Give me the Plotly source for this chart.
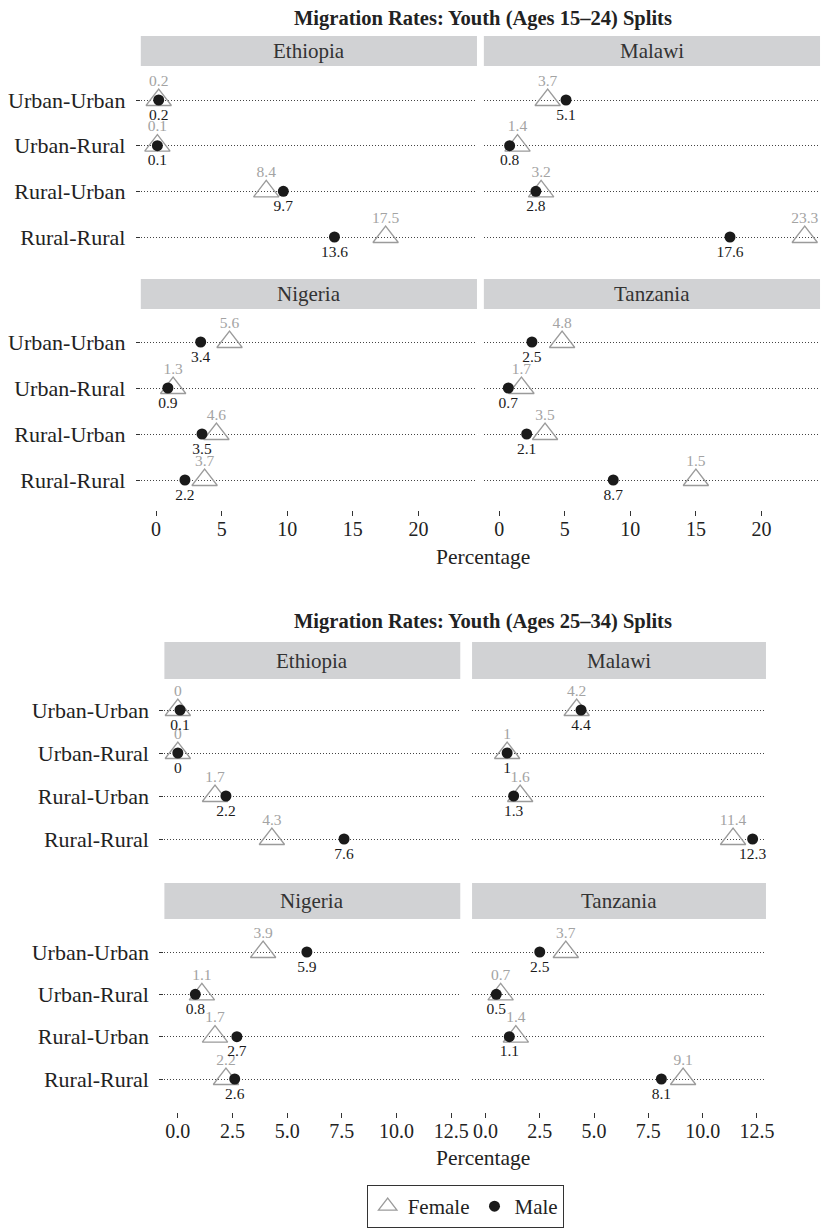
"""Migration rates by route, sex and country: two faceted dot plots."""

import plotly.graph_objects as go

W, H = 830, 1228
PAD = 8                      # default body margin of the written page
FW, FH = W - PAD, H - PAD    # figure size so that the page fits the window
FONT = "Liberation Serif"

ROUTES = ["Urban-Urban", "Urban-Rural", "Rural-Urban", "Rural-Rural"]
COUNTRIES = ["Ethiopia", "Malawi", "Nigeria", "Tanzania"]

# Youth ages 15-24
ETH_15_FEMALE = [0.2, 0.1, 8.4, 17.5]
ETH_15_MALE = [0.2, 0.1, 9.7, 13.6]
MWI_15_FEMALE = [3.7, 1.4, 3.2, 23.3]
MWI_15_MALE = [5.1, 0.8, 2.8, 17.6]
NGA_15_FEMALE = [5.6, 1.3, 4.6, 3.7]
NGA_15_MALE = [3.4, 0.9, 3.5, 2.2]
TZA_15_FEMALE = [4.8, 1.7, 3.5, 15.0]
TZA_15_MALE = [2.5, 0.7, 2.1, 8.7]
# label printed in the source for Tanzania rural-rural female is "1.5"
TZA_15_FEMALE_LABELS = ["4.8", "1.7", "3.5", "1.5"]

# Youth ages 25-34
ETH_25_FEMALE = [0.0, 0.0, 1.7, 4.3]
ETH_25_MALE = [0.1, 0.0, 2.2, 7.6]
MWI_25_FEMALE = [4.2, 1.0, 1.6, 11.4]
MWI_25_MALE = [4.4, 1.0, 1.3, 12.3]
NGA_25_FEMALE = [3.9, 1.1, 1.7, 2.2]
NGA_25_MALE = [5.9, 0.8, 2.7, 2.6]
TZA_25_FEMALE = [3.7, 0.7, 1.4, 9.1]
TZA_25_MALE = [2.5, 0.5, 1.1, 8.1]

X_TICKS_15 = [0, 5, 10, 15, 20]
X_TICKS_25 = [0.0, 2.5, 5.0, 7.5, 10.0, 12.5]


def fmt(v):
    return f"{v:g}"


def px_x(px):
    return (px - PAD) / FW


def px_y(py):
    return 1 - (py - PAD) / FH


# layout of each block in window pixels
PANELS = [
    dict(
        title="Migration Rates: Youth (Ages 15–24) Splits",
        title_y=18,
        female=[ETH_15_FEMALE, MWI_15_FEMALE, NGA_15_FEMALE, TZA_15_FEMALE],
        male=[ETH_15_MALE, MWI_15_MALE, NGA_15_MALE, TZA_15_MALE],
        female_labels=[None, None, None, TZA_15_FEMALE_LABELS],
        xrange=[-1.165, 24.465],
        xticks=X_TICKS_15,
        tickformat="d",
        cols=[(137, 479), (486, 828)],
        # (strip top, strip bottom, panel top, y UU, y RR, panel bottom)
        rows=[(36, 66, 72, 100, 237, 264), (279, 309, 314, 342, 480, 510)],
        xtitle_y=557,
    ),
    dict(
        title="Migration Rates: Youth (Ages 25–34) Splits",
        title_y=621,
        female=[ETH_25_FEMALE, MWI_25_FEMALE, NGA_25_FEMALE, TZA_25_FEMALE],
        male=[ETH_25_MALE, MWI_25_MALE, NGA_25_MALE, TZA_25_MALE],
        female_labels=[None, None, None, None],
        xrange=[-0.615, 12.915],
        xticks=X_TICKS_25,
        tickformat=".1f",
        cols=[(161, 462), (474, 773)],
        rows=[(642, 679, 684, 710, 839, 865), (883, 919, 927, 952, 1079, 1112)],
        xtitle_y=1158,
    ),
]

FEMALE_COLOR = "#9b9b9b"
FEMALE_TEXT = "#a3a3a3"
MALE_COLOR = "#1a1a1a"
STRIP_COLOR = "#d1d2d4"
TEXT_COLOR = "#222222"
CLEAR = "rgba(0,0,0,0)"


def note(text, x, y, size, color=TEXT_COLOR):
    return dict(
        text=text, x=px_x(x), y=px_y(y), xref="paper", yref="paper",
        xanchor="center", yanchor="middle", showarrow=False,
        font=dict(family=FONT, size=size, color=color),
    )


fig = go.Figure()
shapes = []
annotations = []
layout_axes = {}

k = 0
for panel in PANELS:
    annotations.append(note(f"<b>{panel['title']}</b>", 485, panel["title_y"], 20.5))
    annotations.append(note("Percentage", 485, panel["xtitle_y"], 21.5))
    for c, country in enumerate(COUNTRIES):
        k += 1
        r, col = divmod(c, 2)
        x0, x1 = panel["cols"][col]
        s_top, s_bot, p_top, y_uu, y_rr, p_bot = panel["rows"][r]
        sp = (y_rr - y_uu) / 3
        lo = -(p_bot - y_rr) / sp
        hi = 3 + (y_uu - p_top) / sp

        xa = "x" if k == 1 else f"x{k}"
        ya = "y" if k == 1 else f"y{k}"

        fem = panel["female"][c]
        fem_text = panel["female_labels"][c] or [fmt(v) for v in fem]
        male = panel["male"][c]

        # marks
        fig.add_trace(go.Scatter(
            x=fem, y=ROUTES, xaxis=xa, yaxis=ya, mode="markers",
            marker=dict(symbol="triangle-up-open", size=22, color=FEMALE_COLOR,
                        line=dict(width=1.3, color=FEMALE_COLOR)),
            name="Female", legendgroup="Female", showlegend=(k == 1),
            cliponaxis=False,
        ))
        fig.add_trace(go.Scatter(
            x=male, y=ROUTES, xaxis=xa, yaxis=ya, mode="markers",
            marker=dict(symbol="circle", size=11, color=MALE_COLOR),
            name="Male", legendgroup="Male", showlegend=(k == 1),
            cliponaxis=False,
        ))
        # value labels (invisible markers only set the text offset)
        fig.add_trace(go.Scatter(
            x=fem, y=ROUTES, xaxis=xa, yaxis=ya, mode="markers+text",
            text=fem_text, textposition="top center",
            textfont=dict(family=FONT, size=15.5, color=FEMALE_TEXT),
            marker=dict(size=15, color=CLEAR), showlegend=False,
            hoverinfo="skip", cliponaxis=False,
        ))
        fig.add_trace(go.Scatter(
            x=male, y=ROUTES, xaxis=xa, yaxis=ya, mode="markers+text",
            text=[fmt(v) for v in male], textposition="bottom center",
            textfont=dict(family=FONT, size=15.5, color=MALE_COLOR),
            marker=dict(size=11, color=CLEAR), showlegend=False,
            hoverinfo="skip", cliponaxis=False,
        ))

        bottom_row = r == 1
        layout_axes["xaxis" if k == 1 else f"xaxis{k}"] = dict(
            domain=[px_x(x0), px_x(x1)], anchor=ya, range=panel["xrange"],
            tickvals=panel["xticks"], tickformat=panel["tickformat"],
            showgrid=False, zeroline=False, showline=False,
            ticks="outside" if bottom_row else "", ticklen=5, tickcolor="#333",
            showticklabels=bottom_row, ticklabelstandoff=-4,
            tickfont=dict(family=FONT, size=20, color=TEXT_COLOR),
        )
        layout_axes["yaxis" if k == 1 else f"yaxis{k}"] = dict(
            domain=[px_y(p_bot), px_y(p_top)], anchor=xa,
            type="category", categoryorder="array", categoryarray=ROUTES[::-1],
            range=[lo, hi], showgrid=True, griddash="1px,2px", gridcolor="#444",
            gridwidth=1, zeroline=False, showline=False,
            ticks="outside" if col == 0 else "", ticklen=4, tickcolor="#333",
            showticklabels=(col == 0), ticklabelstandoff=6,
            tickfont=dict(family=FONT, size=22, color=TEXT_COLOR),
        )

        shapes.append(dict(
            type="rect", xref="paper", yref="paper",
            x0=px_x(x0), x1=px_x(x1), y0=px_y(s_bot), y1=px_y(s_top),
            fillcolor=STRIP_COLOR, line=dict(width=0), layer="below",
        ))
        annotations.append(note(country, (x0 + x1) / 2, (s_top + s_bot) / 2, 21, "#333"))

fig.update_layout(
    width=FW, height=FH,
    margin=dict(l=0, r=0, t=0, b=0),
    paper_bgcolor="white", plot_bgcolor="white",
    font=dict(family=FONT, color=TEXT_COLOR),
    shapes=shapes, annotations=annotations,
    legend=dict(
        orientation="h", x=px_x(467), xanchor="center",
        y=px_y(1185), yanchor="top",
        bordercolor="#333", borderwidth=1,
        font=dict(family=FONT, size=21, color=TEXT_COLOR),
        itemsizing="trace", traceorder="normal",
    ),
    **layout_axes,
)

fig.write_html("out.html")
